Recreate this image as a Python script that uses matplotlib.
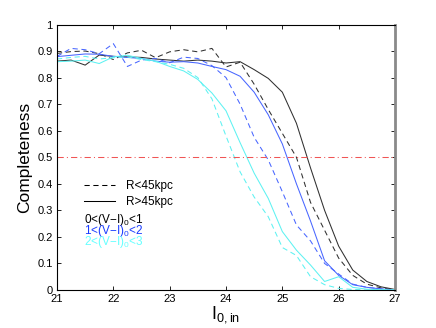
import numpy as np
import matplotlib
matplotlib.use('Agg')
import matplotlib.pyplot as plt
from matplotlib.lines import Line2D

plt.rcParams['font.family'] = ['Liberation Sans', 'DejaVu Sans']
plt.rcParams['mathtext.default'] = 'regular'

# input magnitude bins
mag = [21.0, 21.25, 21.5, 21.75, 22.0, 22.25, 22.5, 22.75, 23.0, 23.25, 23.5, 23.75,
       24.0, 24.25, 24.5, 24.75, 25.0, 25.25, 25.5, 25.75, 26.0, 26.25, 26.5, 26.75, 27.0]

# completeness, R > 45 kpc (solid)
c01_out = [0.862, 0.866, 0.847, 0.885, 0.880, 0.878, 0.876, 0.870, 0.866, 0.862, 0.866, 0.862,
           0.855, 0.860, 0.830, 0.797, 0.745, 0.628, 0.460, 0.300, 0.165, 0.075, 0.032, 0.012, 0.002]
c12_out = [0.879, 0.884, 0.889, 0.888, 0.880, 0.876, 0.872, 0.862, 0.858, 0.860, 0.855, 0.842,
           0.830, 0.805, 0.745, 0.660, 0.550, 0.400, 0.260, 0.110, 0.055, 0.020, 0.010, 0.004, 0.0]
c23_out = [0.860, 0.862, 0.866, 0.853, 0.878, 0.884, 0.872, 0.862, 0.842, 0.825, 0.793, 0.742,
           0.675, 0.555, 0.440, 0.345, 0.220, 0.150, 0.094, 0.032, 0.050, 0.010, 0.003, 0.001, 0.0]

# completeness, R < 45 kpc (dashed)
c01_in = [0.891, 0.898, 0.900, 0.890, 0.868, 0.893, 0.903, 0.875, 0.897, 0.905, 0.897, 0.910,
          0.840, 0.858, 0.775, 0.680, 0.590, 0.500, 0.330, 0.225, 0.120, 0.055, 0.022, 0.008, 0.0]
c12_in = [0.880, 0.910, 0.905, 0.890, 0.928, 0.842, 0.866, 0.872, 0.856, 0.877, 0.872, 0.845,
          0.800, 0.700, 0.575, 0.490, 0.370, 0.245, 0.185, 0.100, 0.060, 0.022, 0.010, 0.004, 0.0]
c23_in = [0.870, 0.876, 0.880, 0.870, 0.875, 0.878, 0.868, 0.860, 0.850, 0.835, 0.800, 0.720,
          0.580, 0.445, 0.350, 0.276, 0.160, 0.130, 0.050, 0.020, 0.006, 0.002, 0.0, 0.0, 0.0]

colour_labels = ['0<(V\u2212I)$_0$<1', '1<(V\u2212I)$_0$<2', '2<(V\u2212I)$_0$<3']
line_colours = ['#303030', '#4866ff', '#5ef2f2']
text_colours = ['#000000', '#1a3cff', '#66ffff']

fig = plt.figure(figsize=(4.36, 3.28), dpi=100)
ax = fig.add_axes([0.1307, 0.1159, 0.7753, 0.8094])

dash = (0, (5, 3.5))
for c, y_in, y_out in zip(line_colours, [c01_in, c12_in, c23_in], [c01_out, c12_out, c23_out]):
    ax.plot(mag, y_in, color=c, lw=0.75, linestyle=dash)
    ax.plot(mag, y_out, color=c, lw=0.75)

ax.axhline(0.5, color='#f05555', lw=0.75, linestyle=(0, (6, 3, 1, 3)))

ax.set_xlim(21, 27)
ax.set_ylim(0, 1)
ax.set_xticks([21, 22, 23, 24, 25, 26, 27])
ax.set_yticks([0, 0.1, 0.2, 0.3, 0.4, 0.5, 0.6, 0.7, 0.8, 0.9, 1])
ax.set_yticklabels(['0', '0.1', '0.2', '0.3', '0.4', '0.5', '0.6', '0.7', '0.8', '0.9', '1'])
ax.tick_params(direction='in', top=True, right=True, length=3, width=0.6,
               labelsize=8, pad=3)
for s in ['left', 'bottom', 'top']:
    ax.spines[s].set_linewidth(0.8)
ax.spines['right'].set_color('#8a8a8a')
ax.spines['right'].set_linewidth(2.0)

ax.set_ylabel('Completeness', fontsize=12.5, labelpad=4)
ax.set_xlabel('I$_{0,in}$', fontsize=13, labelpad=0)

handles = [Line2D([], [], color='k', lw=0.75, linestyle=dash),
           Line2D([], [], color='k', lw=0.75)]
ax.legend(handles, ['R<45kpc', 'R>45kpc'], loc='upper left', bbox_to_anchor=(0.055, 0.445),
          frameon=False, fontsize=8.5, handlelength=2.6, handletextpad=1.0,
          labelspacing=0.3, borderpad=0.2)

for i, (lab, tc) in enumerate(zip(colour_labels, text_colours)):
    ax.text(0.08, 0.265 - i * 0.042, lab, color=tc, fontsize=8.5,
            transform=ax.transAxes, va='center', ha='left')

fig.savefig('out.png', dpi=100)
